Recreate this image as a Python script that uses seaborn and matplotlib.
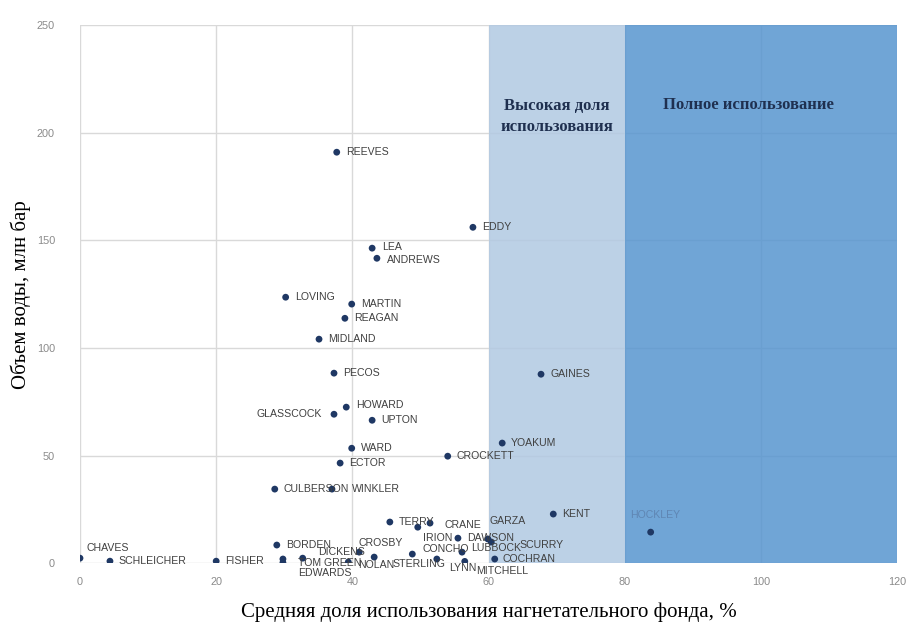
import matplotlib
matplotlib.use("Agg")
import matplotlib.pyplot as plt
import seaborn as sns
import pandas as pd

# County, average injection-well utilisation (%), water volume (million barrels)
counties = [
    "REEVES", "EDDY", "LEA", "ANDREWS", "LOVING", "MARTIN", "REAGAN", "MIDLAND",
    "PECOS", "GAINES", "HOWARD", "GLASSCOCK", "UPTON", "WARD", "YOAKUM", "CROCKETT",
    "ECTOR", "CULBERSON", "WINKLER", "KENT", "HOCKLEY", "TERRY", "IRION", "CRANE",
    "DAWSON", "GARZA", "SCURRY", "BORDEN", "CHAVES", "SCHLEICHER", "FISHER",
    "EDWARDS", "TOM GREEN", "DICKENS", "CROSBY", "NOLAN", "STERLING", "CONCHO",
    "LYNN", "MITCHELL", "LUBBOCK", "COCHRAN",
]
usage = [
    37.7, 57.7, 42.9, 43.6, 30.2, 39.9, 38.9, 35.1,
    37.3, 67.7, 39.1, 37.3, 42.9, 39.9, 62.0, 54.0,
    38.2, 28.6, 37.0, 69.5, 83.8, 45.5, 49.6, 51.4,
    55.5, 59.9, 60.4, 28.9, 0.0, 4.4, 20.0,
    29.8, 29.8, 32.7, 41.0, 39.4, 43.2, 48.8,
    52.4, 56.5, 56.1, 60.9,
]
volume = [
    191.0, 156.1, 146.4, 141.7, 123.6, 120.4, 113.8, 104.1,
    88.3, 87.8, 72.5, 69.2, 66.4, 53.4, 55.8, 49.7,
    46.5, 34.4, 34.4, 22.8, 14.4, 19.1, 16.7, 18.6,
    11.6, 11.2, 9.8, 8.4, 2.3, 0.9, 0.9,
    0.2, 1.9, 2.3, 5.1, 0.5, 2.8, 4.2,
    1.9, 0.8, 5.1, 1.9,
]

x_ticks = [0, 20, 40, 60, 80, 100, 120]
y_ticks = [0, 50, 100, 150, 200, 250]

zone_high = (60, 80)
zone_full = (80, 120)
zone_high_text = "Высокая доля\nиспользования"
zone_full_text = "Полное использование"

x_title = "Средняя доля использования нагнетательного фонда, %"
y_title = "Объем воды, млн бар"

df = pd.DataFrame({"county": counties, "usage": usage, "volume": volume})

# label placement (pixel offsets from the marker, alignment)
default_pos = (9, 0, "left", "center")
label_pos = {
    "CHAVES": (7, 10, "left", "center"),
    "GLASSCOCK": (-12, 0, "right", "center"),
    "HOCKLEY": (5, 17, "center", "center"),
    "GARZA": (2, 18, "left", "center"),
    "SCURRY": (28, -3, "left", "center"),
    "IRION": (5, -11, "left", "center"),
    "CRANE": (14, -2, "left", "center"),
    "CROSBY": (-1, 9, "left", "center"),
    "DICKENS": (15, 6, "left", "center"),
    "TOM GREEN": (15, -4, "left", "center"),
    "EDWARDS": (15, -10, "left", "center"),
    "NOLAN": (10, -3, "left", "center"),
    "STERLING": (18, -7, "left", "center"),
    "CONCHO": (10, 5, "left", "center"),
    "LYNN": (12, -9, "left", "center"),
    "MITCHELL": (11, -10, "left", "center"),
    "LUBBOCK": (9, 4, "left", "center"),
    "COCHRAN": (8, 0, "left", "center"),
    "WINKLER": (20, 0, "left", "center"),
    "HOWARD": (10, 2, "left", "center"),
    "LEA": (10, 1, "left", "center"),
    "ANDREWS": (10, -2, "left", "center"),
}

sns.set_style("white")
plt.rcParams["font.family"] = ["Liberation Sans", "DejaVu Sans"]

fig = plt.figure(figsize=(9.09, 6.32), dpi=100)
ax = fig.add_axes([0.088, 0.109, 0.899, 0.851])

# utilisation zones
ax.axvspan(*zone_high, color="#b1c9e2", alpha=0.85, lw=0, zorder=1)
ax.axvspan(*zone_full, color="#5795cf", alpha=0.85, lw=0, zorder=1)

sns.scatterplot(data=df, x="usage", y="volume", ax=ax, color="#1f3864",
                s=24, edgecolor="none", zorder=4, legend=False)

for name, xv, yv in zip(counties, usage, volume):
    dx, dy, ha, va = label_pos.get(name, default_pos)
    color = "#5f86b3" if name == "HOCKLEY" else "#404040"
    ax.annotate(name, (xv, yv), xytext=(dx, dy), textcoords="offset pixels",
                ha=ha, va=va, fontsize=7.6, color=color, zorder=5)

serif_bold = dict(family=["Liberation Serif", "DejaVu Serif"], fontweight="bold",
                  color="#1f3050", fontsize=12)
ax.text(sum(zone_high) / 2, 207.5, zone_high_text, ha="center", va="center",
        linespacing=1.45, zorder=5, **serif_bold)
ax.text(98.2, 213, zone_full_text, ha="center", va="center", zorder=5, **serif_bold)

ax.set_xlim(0, 120)
ax.set_ylim(0, 250)
ax.set_xticks(x_ticks)
ax.set_yticks(y_ticks)
ax.grid(True, color="#d9d9d9", lw=1, zorder=0)
ax.set_axisbelow(True)
for s in ax.spines.values():
    s.set_visible(False)
ax.tick_params(axis="both", length=0, labelsize=7.8, labelcolor="#8a8a8a")
ax.tick_params(axis="y", pad=18)
ax.tick_params(axis="x", pad=10)

serif = ["Liberation Serif", "DejaVu Serif"]
ax.set_xlabel(x_title, family=serif, fontsize=15, color="#000000", labelpad=11)
ax.set_ylabel(y_title, family=serif, fontsize=15, color="#000000", labelpad=4)

fig.savefig("out.png", dpi=100, facecolor="white")
